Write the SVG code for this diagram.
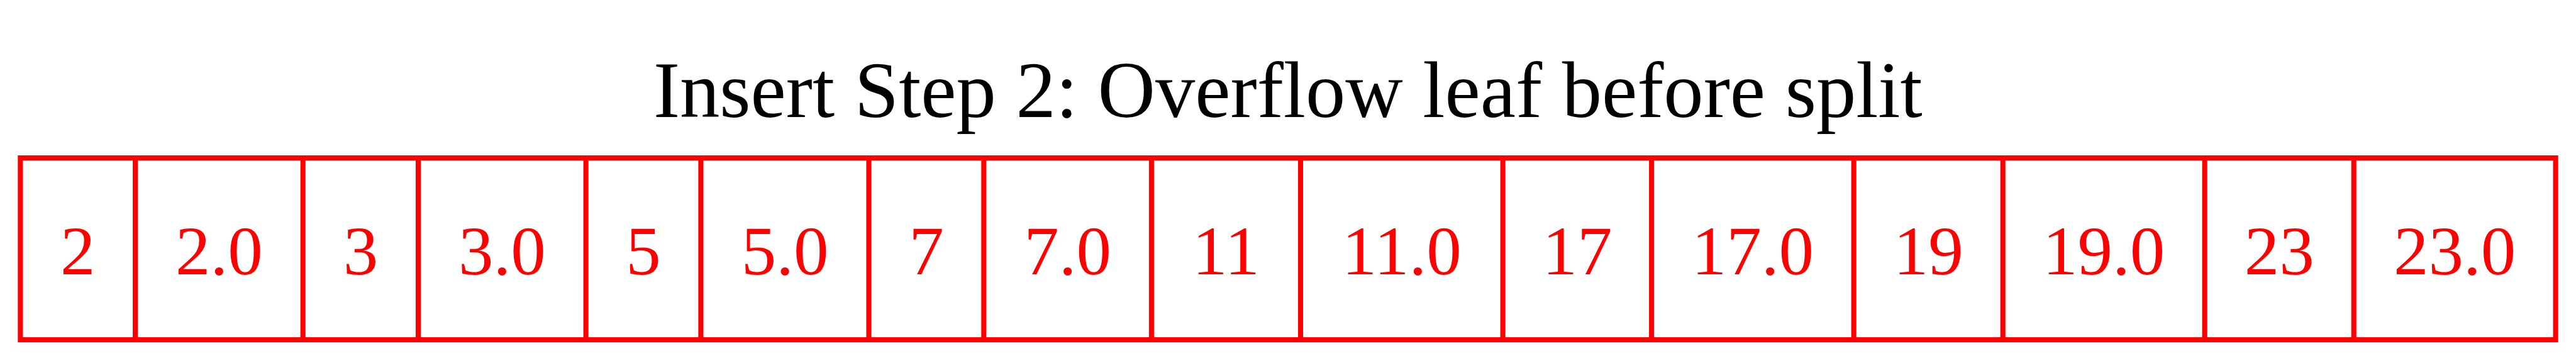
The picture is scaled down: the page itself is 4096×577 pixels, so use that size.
<svg xmlns="http://www.w3.org/2000/svg" width="4096" height="577" viewBox="0 0 4096 577">
<style>
.box{fill:#ffffff;stroke:#ff0000;stroke-width:8.1}
.div{stroke:#ff0000;stroke-width:8.1}
.cell{font-family:"Liberation Serif","Times New Roman",serif;font-size:111px;fill:#ff0000;text-anchor:middle}
.title{font-family:"Liberation Serif","Times New Roman",serif;font-size:126.6px;fill:#000000;text-anchor:middle}
</style>
<rect width="4096" height="577" fill="#ffffff"/>
<text class="title" x="2047.8" y="186.2">Insert Step 2: Overflow leaf before split</text>
<g id="connectors"/>
<g id="leaf">
<rect class="box" x="32.4" y="251" width="4031.2" height="289.1"/>
<g class="div">
<line x1="215.1" y1="251" x2="215.1" y2="540.1"/>
<line x1="481.7" y1="251" x2="481.7" y2="540.1"/>
<line x1="665.0" y1="251" x2="665.0" y2="540.1"/>
<line x1="931.6" y1="251" x2="931.6" y2="540.1"/>
<line x1="1114.4" y1="251" x2="1114.4" y2="540.1"/>
<line x1="1381.5" y1="251" x2="1381.5" y2="540.1"/>
<line x1="1564.3" y1="251" x2="1564.3" y2="540.1"/>
<line x1="1830.9" y1="251" x2="1830.9" y2="540.1"/>
<line x1="2068.0" y1="251" x2="2068.0" y2="540.1"/>
<line x1="2389.6" y1="251" x2="2389.6" y2="540.1"/>
<line x1="2626.1" y1="251" x2="2626.1" y2="540.1"/>
<line x1="2947.6" y1="251" x2="2947.6" y2="540.1"/>
<line x1="3184.7" y1="251" x2="3184.7" y2="540.1"/>
<line x1="3505.6" y1="251" x2="3505.6" y2="540.1"/>
<line x1="3742.7" y1="251" x2="3742.7" y2="540.1"/>
</g>
<g id="cell-2"><text class="cell" x="123.8" y="435.7">2</text></g>
<g id="cell-2_0"><text class="cell" x="348.4" y="435.7">2.0</text></g>
<g id="cell-3"><text class="cell" x="573.4" y="435.7">3</text></g>
<g id="cell-3_0"><text class="cell" x="798.3" y="435.7">3.0</text></g>
<g id="cell-5"><text class="cell" x="1023.0" y="435.7">5</text></g>
<g id="cell-5_0"><text class="cell" x="1248.0" y="435.7">5.0</text></g>
<g id="cell-7"><text class="cell" x="1472.9" y="435.7">7</text></g>
<g id="cell-7_0"><text class="cell" x="1697.6" y="435.7">7.0</text></g>
<g id="cell-11"><text class="cell" x="1949.5" y="435.7">11</text></g>
<g id="cell-11_0"><text class="cell" x="2228.8" y="435.7">11.0</text></g>
<g id="cell-17"><text class="cell" x="2507.9" y="435.7">17</text></g>
<g id="cell-17_0"><text class="cell" x="2786.9" y="435.7">17.0</text></g>
<g id="cell-19"><text class="cell" x="3066.2" y="435.7">19</text></g>
<g id="cell-19_0"><text class="cell" x="3345.2" y="435.7">19.0</text></g>
<g id="cell-23"><text class="cell" x="3624.2" y="435.7">23</text></g>
<g id="cell-23_0"><text class="cell" x="3903.2" y="435.7">23.0</text></g>
</g>
</svg>
